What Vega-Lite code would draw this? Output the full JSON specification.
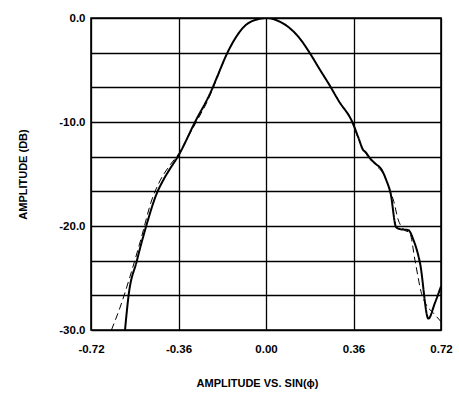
{
  "$schema": "https://vega.github.io/schema/vega-lite/v6.json",
  "autosize": {"type": "none"},
  "width": 350,
  "height": 312,
  "padding": {"left": 91, "top": 18, "right": 18, "bottom": 65},
  "background": "white",
  "config": {
    "view": {"stroke": "black", "strokeWidth": 1.6},
    "font": "Liberation Sans",
    "axis": {"labelFont": "Liberation Sans", "titleFont": "Liberation Sans", "labelFontWeight": "bold", "titleFontWeight": "bold", "labelColor": "black", "titleColor": "black", "labelFontSize": 11.5, "titleFontSize": 11, "gridColor": "black", "gridOpacity": 1, "gridWidth": 1.3, "domain": false, "ticks": false}
  },
  "data": {"values": [
    {"x": -0.580, "y": -30.0, "s": "solid"},
    {"x": -0.566, "y": -26.8, "s": "solid"},
    {"x": -0.532, "y": -23.4, "s": "solid"},
    {"x": -0.494, "y": -20.1, "s": "solid"},
    {"x": -0.450, "y": -16.9, "s": "solid"},
    {"x": -0.423, "y": -15.6, "s": "solid"},
    {"x": -0.395, "y": -14.5, "s": "solid"},
    {"x": -0.362, "y": -13.3, "s": "solid"},
    {"x": -0.292, "y": -10.0, "s": "solid"},
    {"x": -0.225, "y": -7.0, "s": "solid"},
    {"x": -0.200, "y": -5.6, "s": "solid"},
    {"x": -0.160, "y": -3.4, "s": "solid"},
    {"x": -0.125, "y": -1.9, "s": "solid"},
    {"x": -0.093, "y": -0.9, "s": "solid"},
    {"x": -0.052, "y": -0.25, "s": "solid"},
    {"x": 0.005, "y": 0.0, "s": "solid"},
    {"x": 0.044, "y": -0.22, "s": "solid"},
    {"x": 0.099, "y": -1.0, "s": "solid"},
    {"x": 0.140, "y": -2.0, "s": "solid"},
    {"x": 0.181, "y": -3.4, "s": "solid"},
    {"x": 0.220, "y": -4.9, "s": "solid"},
    {"x": 0.260, "y": -6.4, "s": "solid"},
    {"x": 0.300, "y": -8.0, "s": "solid"},
    {"x": 0.355, "y": -10.0, "s": "solid"},
    {"x": 0.380, "y": -11.5, "s": "solid"},
    {"x": 0.400, "y": -12.7, "s": "solid"},
    {"x": 0.410, "y": -12.9, "s": "solid"},
    {"x": 0.428, "y": -13.5, "s": "solid"},
    {"x": 0.450, "y": -14.0, "s": "solid"},
    {"x": 0.476, "y": -14.6, "s": "solid"},
    {"x": 0.495, "y": -15.6, "s": "solid"},
    {"x": 0.513, "y": -16.9, "s": "solid"},
    {"x": 0.535, "y": -20.1, "s": "solid"},
    {"x": 0.551, "y": -20.3, "s": "solid"},
    {"x": 0.586, "y": -20.4, "s": "solid"},
    {"x": 0.606, "y": -21.3, "s": "solid"},
    {"x": 0.634, "y": -23.6, "s": "solid"},
    {"x": 0.668, "y": -28.9, "s": "solid"},
    {"x": 0.695, "y": -27.4, "s": "solid"},
    {"x": 0.720, "y": -25.8, "s": "solid"},
    {"x": -0.636, "y": -30.0, "s": "dashed"},
    {"x": -0.600, "y": -27.8, "s": "dashed"},
    {"x": -0.560, "y": -24.9, "s": "dashed"},
    {"x": -0.515, "y": -21.3, "s": "dashed"},
    {"x": -0.470, "y": -17.5, "s": "dashed"},
    {"x": -0.435, "y": -15.6, "s": "dashed"},
    {"x": -0.400, "y": -14.3, "s": "dashed"},
    {"x": -0.355, "y": -12.9, "s": "dashed"},
    {"x": -0.325, "y": -11.6, "s": "dashed"},
    {"x": -0.282, "y": -9.8, "s": "dashed"},
    {"x": -0.237, "y": -7.8, "s": "dashed"},
    {"x": -0.205, "y": -6.0, "s": "dashed"},
    {"x": -0.160, "y": -3.4, "s": "dashed"},
    {"x": -0.125, "y": -1.9, "s": "dashed"},
    {"x": -0.093, "y": -0.9, "s": "dashed"},
    {"x": -0.052, "y": -0.25, "s": "dashed"},
    {"x": 0.005, "y": 0.0, "s": "dashed"},
    {"x": 0.044, "y": -0.22, "s": "dashed"},
    {"x": 0.099, "y": -1.0, "s": "dashed"},
    {"x": 0.140, "y": -2.0, "s": "dashed"},
    {"x": 0.181, "y": -3.4, "s": "dashed"},
    {"x": 0.220, "y": -4.9, "s": "dashed"},
    {"x": 0.260, "y": -6.4, "s": "dashed"},
    {"x": 0.300, "y": -8.0, "s": "dashed"},
    {"x": 0.355, "y": -10.0, "s": "dashed"},
    {"x": 0.385, "y": -11.9, "s": "dashed"},
    {"x": 0.410, "y": -13.0, "s": "dashed"},
    {"x": 0.450, "y": -14.1, "s": "dashed"},
    {"x": 0.490, "y": -15.3, "s": "dashed"},
    {"x": 0.510, "y": -16.6, "s": "dashed"},
    {"x": 0.524, "y": -17.5, "s": "dashed"},
    {"x": 0.544, "y": -19.4, "s": "dashed"},
    {"x": 0.565, "y": -20.3, "s": "dashed"},
    {"x": 0.592, "y": -20.7, "s": "dashed"},
    {"x": 0.613, "y": -23.3, "s": "dashed"},
    {"x": 0.640, "y": -26.5, "s": "dashed"},
    {"x": 0.660, "y": -27.6, "s": "dashed"},
    {"x": 0.690, "y": -28.4, "s": "dashed"},
    {"x": 0.720, "y": -29.2, "s": "dashed"}
  ]},
  "mark": {"type": "line", "color": "black", "clip": true, "interpolate": "monotone"},
  "encoding": {
    "x": {"field": "x", "type": "quantitative", "scale": {"domain": [-0.72, 0.72], "nice": false, "zero": false},
      "axis": {"values": [-0.72, -0.36, 0, 0.36, 0.72], "labelExpr": "replace(format(datum.value, '.2f'), '\u2212', '-')", "labelPadding": 13, "title": "AMPLITUDE VS. SIN(ϕ)", "titlePadding": 23, "titleX": 166, "labelFlush": false}},
    "y": {"field": "y", "type": "quantitative", "scale": {"domain": [-30, 0], "nice": false, "zero": false},
      "axis": {"values": [-30, -26.6667, -23.3333, -20, -16.6667, -13.3333, -10, -6.6667, -3.3333, 0], "labelExpr": "abs(datum.value % 10) < 0.01 ? replace(format(datum.value, '.1f'), '\u2212', '-') : ''", "labelPadding": 6, "title": "AMPLITUDE (DB)", "titlePadding": 30, "labelFlush": false}},
    "detail": {"field": "s"},
    "strokeDash": {"field": "s", "type": "nominal", "scale": {"domain": ["solid", "dashed"], "range": [[1, 0], [7, 4]]}, "legend": null},
    "strokeWidth": {"field": "s", "type": "nominal", "scale": {"domain": ["solid", "dashed"], "range": [2, 1]}, "legend": null}
  }
}
